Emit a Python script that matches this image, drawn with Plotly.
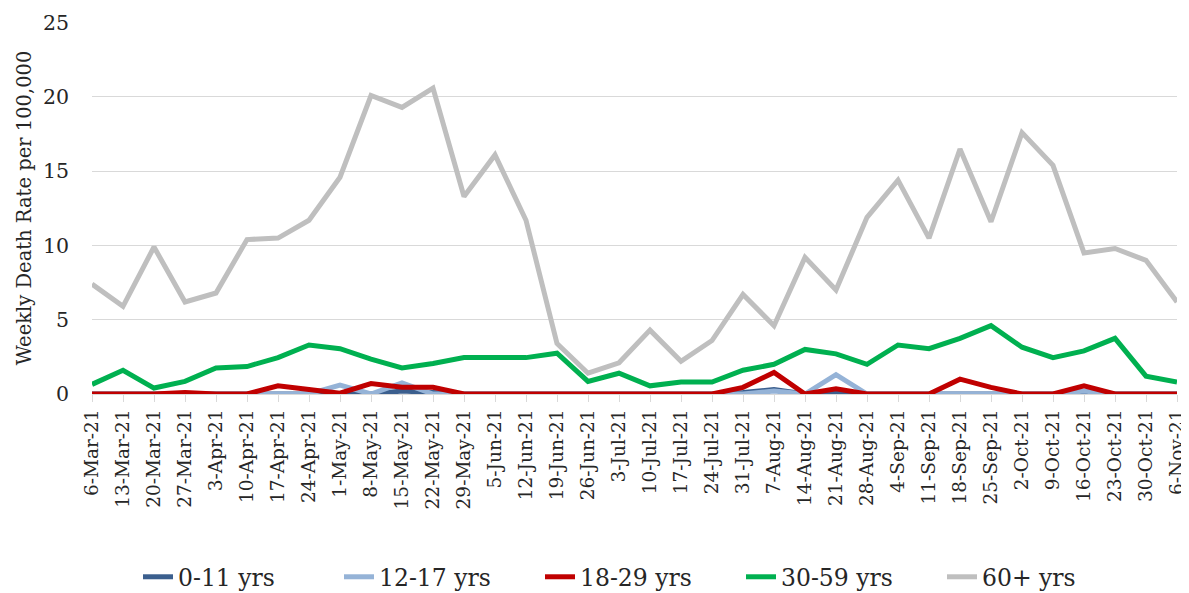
import plotly.graph_objects as go

weeks = ["6-Mar-21","13-Mar-21","20-Mar-21","27-Mar-21","3-Apr-21","10-Apr-21","17-Apr-21","24-Apr-21",
         "1-May-21","8-May-21","15-May-21","22-May-21","29-May-21","5-Jun-21","12-Jun-21","19-Jun-21",
         "26-Jun-21","3-Jul-21","10-Jul-21","17-Jul-21","24-Jul-21","31-Jul-21","7-Aug-21","14-Aug-21",
         "21-Aug-21","28-Aug-21","4-Sep-21","11-Sep-21","18-Sep-21","25-Sep-21","2-Oct-21","9-Oct-21",
         "16-Oct-21","23-Oct-21","30-Oct-21","6-Nov-21"]

age_0_11 = [0,0,0,0,0,0,0,0,0,0,0.2,0.1,0,0,0,0,0,0,0,0,0,0.1,0.3,0,0.15,0,0,0,0,0,0,0,0,0,0,0]
age_12_17 = [0,0,0,0,0,0,0,0,0.6,0,0.75,0,0,0,0,0,0,0,0,0,0,0,0.2,0,1.3,0,0,0,0,0,0,0,0.2,0,0,0]
age_18_29 = [0,0,0,0.1,0,0,0.55,0.3,0.05,0.7,0.45,0.45,0,0,0,0,0,0,0,0,0,0.45,1.45,0,0.35,0,0,0,1.0,0.45,0,0,0.55,0,0,0]
age_30_59 = [0.65,1.6,0.4,0.85,1.75,1.85,2.45,3.3,3.05,2.35,1.75,2.05,2.45,2.45,2.45,2.75,0.85,1.4,0.55,0.8,
             0.8,1.6,2.0,3.0,2.7,2.0,3.3,3.05,3.75,4.6,3.15,2.45,2.9,3.75,1.2,0.8]
age_60_plus = [7.4,5.9,9.9,6.2,6.8,10.4,10.5,11.7,14.6,20.1,19.3,20.6,13.3,16.1,11.7,3.4,1.4,2.1,4.3,2.2,
               3.6,6.7,4.6,9.2,7.0,11.9,14.4,10.5,16.5,11.6,17.6,15.4,9.5,9.8,9.0,6.2]

series = [
    ("0-11 yrs", age_0_11, "#3B5F8E"),
    ("12-17 yrs", age_12_17, "#95B3D7"),
    ("18-29 yrs", age_18_29, "#C00000"),
    ("30-59 yrs", age_30_59, "#00B050"),
    ("60+ yrs", age_60_plus, "#BFBFBF"),
]

FONT = "DejaVu Serif"
TXT = "#262626"
# the page body has an 8px default margin; size the figure so it ends at the window edge
OFF = 8
W, H = 1189 - OFF, 593 - OFF

fig = go.Figure()
for name, vals, color in series:
    fig.add_trace(go.Scatter(x=weeks, y=vals, name=name, mode="lines",
                             line=dict(color=color, width=5)))

fig.update_layout(
    width=W, height=H,
    margin=dict(l=92 - OFF, r=12, t=22 - OFF, b=199, autoexpand=False),
    paper_bgcolor="white", plot_bgcolor="white",
    font=dict(family=FONT, color=TXT),
    showlegend=True,
    legend=dict(orientation="h", x=(138 - OFF) / W, xref="container", xanchor="left",
                y=1 - (577 - OFF) / H, yref="container", yanchor="middle",
                font=dict(family=FONT, size=23.5, color=TXT),
                entrywidth=156, entrywidthmode="pixels", traceorder="normal"),
)
fig.update_xaxes(
    type="category", range=[0, len(weeks) - 1], automargin=False,
    tickangle=-90, tickfont=dict(family=FONT, size=18.5, color=TXT),
    showgrid=False, showline=True, linecolor="#D9D9D9", linewidth=1,
    ticks="outside", ticklen=7, tickcolor="#D9D9D9",
)
fig.update_yaxes(
    range=[0, 25.05], tickvals=[0, 5, 10, 15, 20, 25], automargin=False,
    showgrid=True, gridcolor="#D9D9D9", gridwidth=1.3,
    zeroline=False, showline=False,
    tickfont=dict(family=FONT, size=20.5, color=TXT),
    ticklabelstandoff=22,
    title=dict(text="Weekly Death Rate per 100,000", font=dict(family=FONT, size=19.5, color=TXT),
               standoff=6),
)

fig.write_html("out.html")
